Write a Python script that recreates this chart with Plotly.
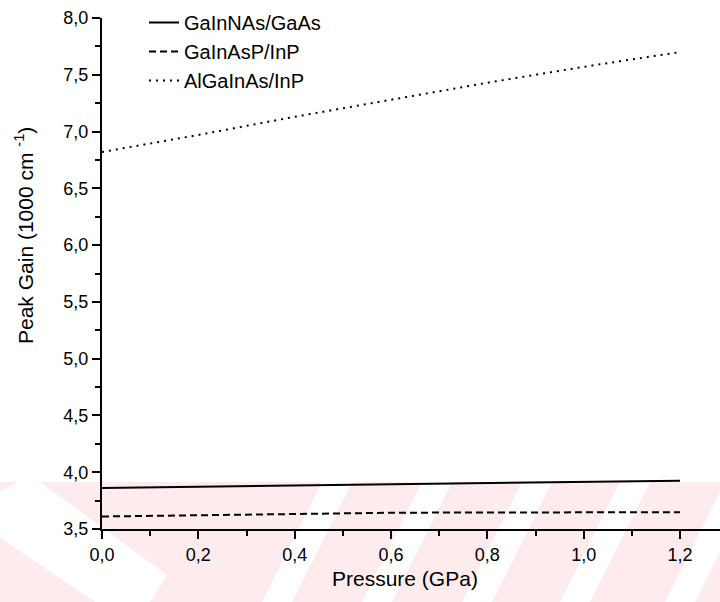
import plotly.graph_objects as go

# ---- data ----
pressure = [0.0, 0.2, 0.4, 0.6, 0.8, 1.0, 1.2]
gainnas_gaas = [3.862, 3.872, 3.884, 3.895, 3.905, 3.915, 3.925]
gainasp_inp = [3.610, 3.620, 3.635, 3.643, 3.646, 3.647, 3.647]
algainas_inp = [6.82, 6.97, 7.13, 7.28, 7.43, 7.57, 7.70]

x_tickvals = [0.0, 0.2, 0.4, 0.6, 0.8, 1.0, 1.2]
x_ticktext = ["0,0", "0,2", "0,4", "0,6", "0,8", "1,0", "1,2"]
y_tickvals = [3.5, 4.0, 4.5, 5.0, 5.5, 6.0, 6.5, 7.0, 7.5, 8.0]
y_ticktext = ["3,5", "4,0", "4,5", "5,0", "5,5", "6,0", "6,5", "7,0", "7,5", "8,0"]

FONT = "Liberation Sans, Arial, Helvetica, sans-serif"
W, H = 720, 602
ML, MR, MT, MB = 102, 0, 18, 73
PW, PH = W - ML - MR, H - MT - MB


def px(x):
    return (x - ML) / PW


def py(y):
    return (H - MB - y) / PH


def path(pts):
    return "M " + " L ".join(f"{px(a):.5f},{py(b):.5f}" for a, b in pts) + " Z"


fig = go.Figure()
fig.add_trace(go.Scatter(x=pressure, y=gainnas_gaas, mode="lines", name="GaInNAs/GaAs",
                         line=dict(color="black", width=2)))
fig.add_trace(go.Scatter(x=pressure, y=gainasp_inp, mode="lines", name="GaInAsP/InP",
                         line=dict(color="black", width=2, dash="7px,4px")))
fig.add_trace(go.Scatter(x=pressure, y=algainas_inp, mode="lines", name="AlGaInAs/InP",
                         line=dict(color="black", width=2, dash="2px,5px")))

# faint watermark band at the bottom of the scan
PINK = "#fdebee"
shapes = [dict(type="path", xref="paper", yref="paper", layer="below",
               path=path([(0, 482), (720, 482), (720, 602), (0, 602)]),
               fillcolor=PINK, line=dict(width=0))]
shapes.append(dict(type="path", xref="paper", yref="paper", layer="below",
                   path=path([(0, 492), (18, 482), (40, 482), (167, 575), (150, 602), (95, 602), (0, 538)]),
                   fillcolor="white", line=dict(width=0)))
for xb in [262, 362, 462, 560, 665]:
    shapes.append(dict(type="path", xref="paper", yref="paper", layer="below",
                       path=path([(xb, 602), (xb + 30, 602), (xb + 90, 482), (xb + 60, 482)]),
                       fillcolor="white", line=dict(width=0)))

fig.update_layout(
    width=W, height=H,
    margin=dict(l=ML, r=MR, t=MT, b=MB),
    paper_bgcolor="white", plot_bgcolor="rgba(0,0,0,0)",
    font=dict(family=FONT, color="black", size=18),
    shapes=shapes,
    showlegend=True,
    legend=dict(x=px(144), y=py(3), xanchor="left", yanchor="top",
                bgcolor="rgba(0,0,0,0)", font=dict(size=20, family=FONT),
                tracegroupgap=0, itemwidth=30),
    annotations=[
        dict(text="Pressure (GPa)", xref="paper", yref="paper", x=px(405), y=py(578),
             xanchor="center", yanchor="middle", showarrow=False, font=dict(size=21)),
        dict(text="Peak Gain (1000 cm <sup>-1</sup>)", xref="paper", yref="paper",
             x=px(24), y=py(236), xanchor="center", yanchor="middle", textangle=-90,
             showarrow=False, font=dict(size=21)),
    ],
)
fig.update_xaxes(range=[0, 1.283], showgrid=False, zeroline=False,
                 showline=True, linecolor="black", linewidth=2,
                 tickmode="array", tickvals=x_tickvals, ticktext=x_ticktext,
                 ticks="outside", ticklen=8, tickwidth=2, tickcolor="black",
                 tickfont=dict(size=18),
                 minor=dict(tick0=0, dtick=0.1, ticks="outside", ticklen=5,
                            tickwidth=2, tickcolor="black"))
fig.update_yaxes(range=[3.5, 8.0], showgrid=False, zeroline=False,
                 showline=True, linecolor="black", linewidth=2,
                 tickmode="array", tickvals=y_tickvals, ticktext=y_ticktext,
                 ticks="outside", ticklen=8, tickwidth=2, tickcolor="black",
                 tickfont=dict(size=18),
                 minor=dict(tick0=3.5, dtick=0.25, ticks="outside", ticklen=5,
                            tickwidth=2, tickcolor="black"))

fig.write_html("out.html")
